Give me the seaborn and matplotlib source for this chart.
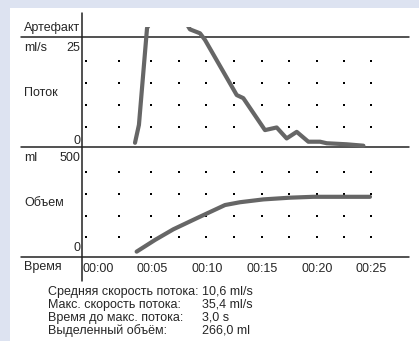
import numpy as np
import pandas as pd
import matplotlib.pyplot as plt
import seaborn as sns
from matplotlib.patches import Rectangle

# ==========================
# Data
# ==========================
# flow curve: time in s, flow in ml/s (part above the panel sits in "artefact" row, clipped)
flow_t = [4.84, 5.2, 5.94, 7.9, 9.86, 10.78, 11.23, 14.13, 14.73, 16.71, 17.78,
          18.69, 19.61, 20.67, 21.74, 22.35, 24.17, 25.7]
flow_v = [1.3, 5.4, 27.5, 35.4, 27.2, 26.3, 24.8, 12.2, 11.5, 4.2, 4.8,
          2.3, 3.8, 1.55, 1.55, 1.2, 0.96, 0.64]

# volume curve: time in s, volume in ml
vol_t = [4.99, 6.67, 8.34, 10.47, 13.06, 14.43, 16.56, 19.0, 21.12, 26.3]
vol_v = [34, 88, 137, 188, 249, 262, 275, 283, 287, 287]

# dotted grid
dot_t = [0.37, 3.4, 6.3, 8.86, 11.3, 13.9, 16.4, 18.9, 21.5, 23.9, 26.4]
flow_dots = [5, 10, 15, 20]
vol_dots = [100, 200, 300, 400]

time_ticks = [0, 5, 10, 15, 20, 25]
time_labels = ["00:00", "00:05", "00:10", "00:15", "00:20", "00:25"]

stat_names = ["Средняя скорость потока:", "Макс. скорость потока:",
              "Время до макс. потока:", "Выделенный объём:"]
stat_values = ["10,6 ml/s", "35,4 ml/s", "3,0 s", "266,0 ml"]

flow_df = pd.DataFrame({"t": flow_t, "v": flow_v})
vol_df = pd.DataFrame({"t": vol_t, "v": vol_v})

sns.set_style("white")
plt.rcParams['font.family'] = ['Liberation Sans', 'DejaVu Sans']

W, H = 419, 341
fig = plt.figure(figsize=(W / 100, H / 100), dpi=100)
fig.patch.set_facecolor('#dde3f1')
fig.add_artist(Rectangle((10 / W, 0), 1, (H - 8) / H, transform=fig.transFigure,
                         facecolor='white', edgecolor='none', zorder=-10))

# overlay in pixel coords for frame lines and row labels
ov = fig.add_axes([0, 0, 1, 1])
ov.set_xlim(0, W)
ov.set_ylim(H, 0)
ov.axis('off')
ov.patch.set_alpha(0)
line_kw = dict(color='#222222', lw=1.1)
for yy in [37, 147, 257]:
    ov.plot([21, 409], [yy, yy], **line_kw)
ov.plot([82, 82], [13, 281], **line_kw)

fs = 9
ov.text(24, 28, "Артефакт", fontsize=fs, va='center')
ov.text(24, 48, "ml/s", fontsize=fs, va='center')
ov.text(80, 48, "25", fontsize=fs, va='center', ha='right')
ov.text(24, 93, "Поток", fontsize=fs, va='center')
ov.text(80, 141, "0", fontsize=fs, va='center', ha='right')
ov.text(24, 158, "ml", fontsize=fs, va='center')
ov.text(80, 158, "500", fontsize=fs, va='center', ha='right')
ov.text(24, 203, "Объем", fontsize=fs, va='center')
ov.text(80, 248, "0", fontsize=fs, va='center', ha='right')
ov.text(24, 267, "Время", fontsize=fs, va='center')

for i, (n, v) in enumerate(zip(stat_names, stat_values)):
    y = 292 + i * 12.8
    ov.text(48, y, n, fontsize=fs, va='center')
    ov.text(202, y, v, fontsize=fs, va='center')

px_per_s = 10.95
x0, x1 = 82, 409
tmax = (x1 - x0) / px_per_s

def panel(ytop, ybot):
    return fig.add_axes([x0 / W, (H - ybot) / H, (x1 - x0) / W, (ybot - ytop) / H])

curve_kw = dict(color='#666666', linewidth=3, solid_capstyle='round',
                solid_joinstyle='round', sort=False, estimator=None, legend=False)

# flow panel
ax_f = panel(27, 148.5)
ax_f.set_xlim(0, tmax)
ax_f.set_ylim(0, (148.5 - 27) / 4.38)
gx, gy = np.meshgrid(dot_t, flow_dots)
sns.scatterplot(x=gx.ravel(), y=gy.ravel(), ax=ax_f, color='black', s=4,
                marker='s', linewidth=0)
sns.lineplot(data=flow_df, x='t', y='v', ax=ax_f, **curve_kw)

# volume panel
ax_v = panel(147, 259)
ax_v.set_xlim(0, tmax)
ax_v.set_ylim(0, (259 - 147) / 0.2167)
gx, gy = np.meshgrid(dot_t, vol_dots)
sns.scatterplot(x=gx.ravel(), y=gy.ravel(), ax=ax_v, color='black', s=4,
                marker='s', linewidth=0)
sns.lineplot(data=vol_df, x='t', y='v', ax=ax_v, **curve_kw)
ax_v.set_xticks(time_ticks)
ax_v.set_xticklabels(time_labels, ha='left', fontsize=fs)
ax_v.tick_params(axis='x', length=0, pad=3)

for ax in [ax_f, ax_v]:
    ax.patch.set_alpha(0)
    ax.set_yticks([])
    ax.set_xlabel('')
    ax.set_ylabel('')
    for s in ax.spines.values():
        s.set_visible(False)
ax_f.set_xticks([])

fig.savefig("out.png", dpi=100)
